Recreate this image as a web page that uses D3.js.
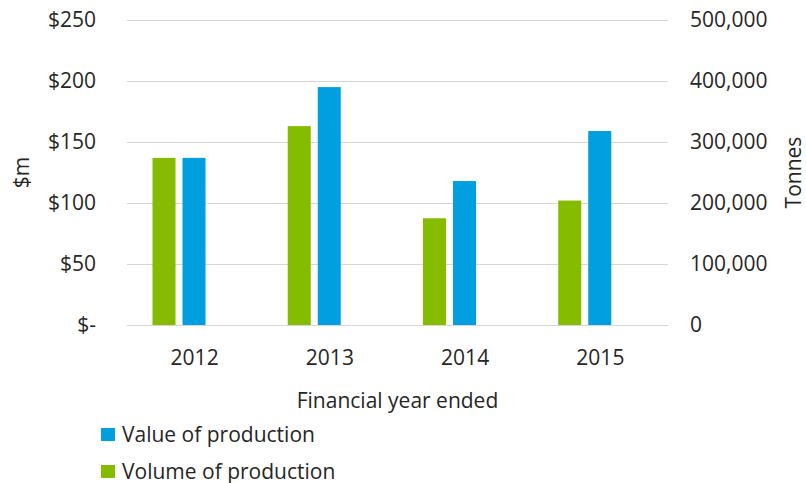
<!DOCTYPE html>
<html>
<head>
  <title>Value and volume of production</title>
  <script src="https://d3js.org/d3.v7.min.js"></script>
  <style>
    body { margin: 0; background: #fff; }
    text { font-family: "Open Sans", sans-serif; fill: #262626; }
  </style>
</head>
<body>
<div id="chart-container"></div>
<script>
// data
var years = ["2012", "2013", "2014", "2015"];
var valueOfProduction = [137, 195, 118, 159];          // $m, left axis
var volumeOfProduction = [274000, 326000, 175000, 204000]; // tonnes, right axis
var leftTicks = [0, 50, 100, 150, 200, 250];
var rightTicks = [0, 100000, 200000, 300000, 400000, 500000];
var seriesNames = ["Value of production", "Volume of production"];

var width = 806, height = 483;
var margin = { top: 20, right: 138, bottom: 158, left: 127 };
var blue = "#009fdf", green = "#86bc00";

var svg = d3.select("#chart-container")
  .append("svg")
  .attr("width", width)
  .attr("height", height)
  .style("font-size", "21px");

var x = d3.scaleBand()
  .domain(years)
  .range([margin.left, width - margin.right])
  .padding(0);

// volume sits left of value inside each year
var xInner = d3.scaleBand()
  .domain(["volume", "value"])
  .range([0, x.bandwidth()])
  .paddingInner(0.233)
  .paddingOuter(1.37)
  .align(0.31);

var yLeft = d3.scaleLinear()
  .domain([0, 250])
  .range([height - margin.bottom, margin.top]);

var yRight = d3.scaleLinear()
  .domain([0, 500000])
  .range([height - margin.bottom, margin.top]);

// gridlines
svg.append("g")
  .selectAll("line")
  .data(leftTicks)
  .join("line")
  .attr("x1", margin.left)
  .attr("x2", width - margin.right)
  .attr("y1", d => yLeft(d) + 0.5)
  .attr("y2", d => yLeft(d) + 0.5)
  .attr("stroke", "#d6d6d6")
  .attr("stroke-width", 1);

// bars
var rows = years.map((yr, i) => ({ year: yr, value: valueOfProduction[i], volume: volumeOfProduction[i] }));

svg.append("g")
  .selectAll("rect")
  .data(rows)
  .join("rect")
  .attr("x", d => x(d.year) + xInner("volume"))
  .attr("width", xInner.bandwidth())
  .attr("y", d => yRight(d.volume))
  .attr("height", d => yRight(0) - yRight(d.volume))
  .attr("fill", green);

svg.append("g")
  .selectAll("rect")
  .data(rows)
  .join("rect")
  .attr("x", d => x(d.year) + xInner("value"))
  .attr("width", xInner.bandwidth())
  .attr("y", d => yLeft(d.value))
  .attr("height", d => yLeft(0) - yLeft(d.value))
  .attr("fill", blue);

// axes
var leftAxis = svg.append("g")
  .attr("transform", "translate(" + margin.left + ",0)")
  .call(d3.axisLeft(yLeft)
    .tickValues(leftTicks)
    .tickSize(0)
    .tickPadding(31)
    .tickFormat(d => d === 0 ? "$-" : "$" + d));

var rightAxis = svg.append("g")
  .attr("transform", "translate(" + (width - margin.right) + ",0)")
  .call(d3.axisRight(yRight)
    .tickValues(rightTicks)
    .tickSize(0)
    .tickPadding(22)
    .tickFormat(d3.format(",")));

var bottomAxis = svg.append("g")
  .attr("transform", "translate(0," + (height - margin.bottom) + ")")
  .call(d3.axisBottom(x).tickSize(0).tickPadding(25));

[leftAxis, rightAxis, bottomAxis].forEach(function(g) {
  g.select(".domain").remove();
  g.selectAll("text")
    .style("font-family", "'Open Sans', sans-serif")
    .style("font-size", "21px")
    .attr("fill", "#262626");
});

// axis titles
svg.append("text")
  .attr("transform", "translate(21," + ((margin.top + height - margin.bottom) / 2) + ") rotate(-90)")
  .attr("text-anchor", "middle")
  .attr("dominant-baseline", "central")
  .text("$m");

svg.append("text")
  .attr("transform", "translate(793," + ((margin.top + height - margin.bottom) / 2) + ") rotate(-90)")
  .attr("text-anchor", "middle")
  .attr("dominant-baseline", "central")
  .text("Tonnes");

svg.append("text")
  .attr("x", (margin.left + width - margin.right) / 2)
  .attr("y", 408)
  .attr("text-anchor", "middle")
  .text("Financial year ended");

// legend
var legend = svg.append("g")
  .selectAll("g")
  .data(seriesNames)
  .join("g")
  .attr("transform", (d, i) => "translate(101," + (428 + i * 37) + ")");

legend.append("rect")
  .attr("width", 14)
  .attr("height", 13)
  .attr("fill", (d, i) => i === 0 ? blue : green);

legend.append("text")
  .attr("x", 21)
  .attr("y", 13.5)
  .text(d => d);
</script>
</body>
</html>
